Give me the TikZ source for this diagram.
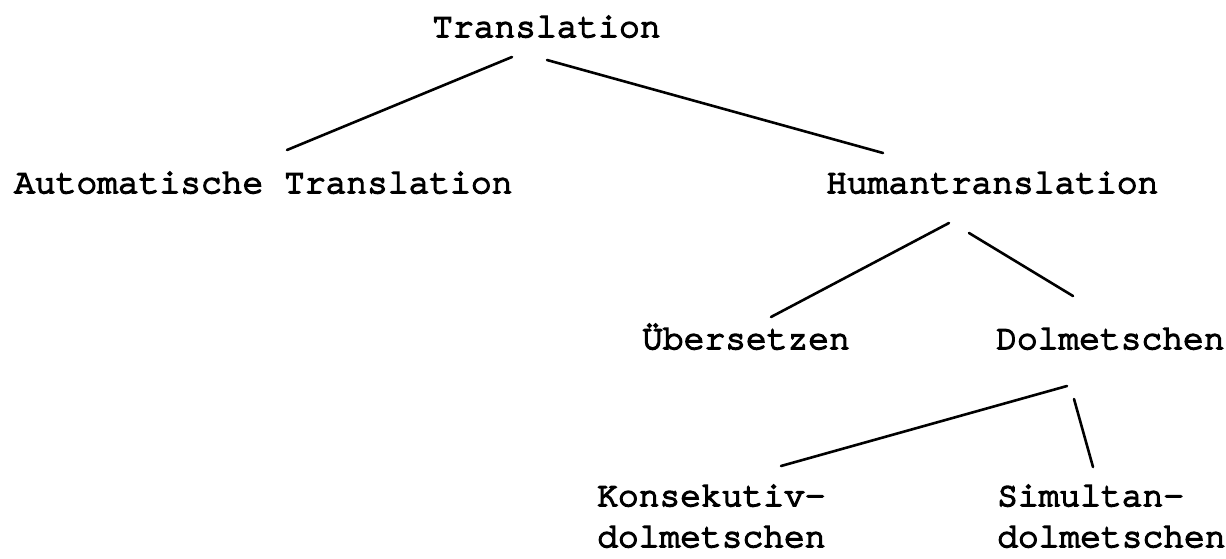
\documentclass[tikz,border=0pt]{standalone}
\usepackage{fontspec}
\newfontfamily\tw[FakeBold=4.5]{TeX Gyre Cursor}
\begin{document}
\begin{tikzpicture}[x=1pt,y=-1pt,
  lbl/.style={inner sep=0pt,anchor=base west,align=left,
    font=\tw\fontsize{34.6pt}{41pt}\selectfont},
  edge/.style={line width=2.6pt,line cap=round}]
\useasboundingbox[fill=white] (0,0) rectangle (1226,559);
\node[lbl] (T) at (432,37) {Translation};
\node[lbl] (A) at (14,193) {Automatische Translation};
\node[lbl] (H) at (826,193) {Humantranslation};
\node[lbl] (U) at (642,349) {Übersetzen};
\node[lbl] (D) at (996,349) {Dolmetschen};
\node[lbl] (K) at (597,547) {Konsekutiv-\\dolmetschen};
\node[lbl] (S) at (997,547) {Simultan-\\dolmetschen};
\draw[edge] ([shift={(80,20)}]T.base west) -- ([shift={(273,-43)}]A.base west);
\draw[edge] ([shift={(115,23)}]T.base west) -- ([shift={(57,-40)}]H.base west);
\draw[edge] ([shift={(123,30)}]H.base west) -- ([shift={(129,-32)}]U.base west);
\draw[edge] ([shift={(143,40)}]H.base west) -- ([shift={(77,-53)}]D.base west);
\draw[edge] ([shift={(71,37)}]D.base west) -- ([shift={(184,-81)}]K.base west);
\draw[edge] ([shift={(78,50)}]D.base west) -- ([shift={(96,-80)}]S.base west);
\end{tikzpicture}
\end{document}
